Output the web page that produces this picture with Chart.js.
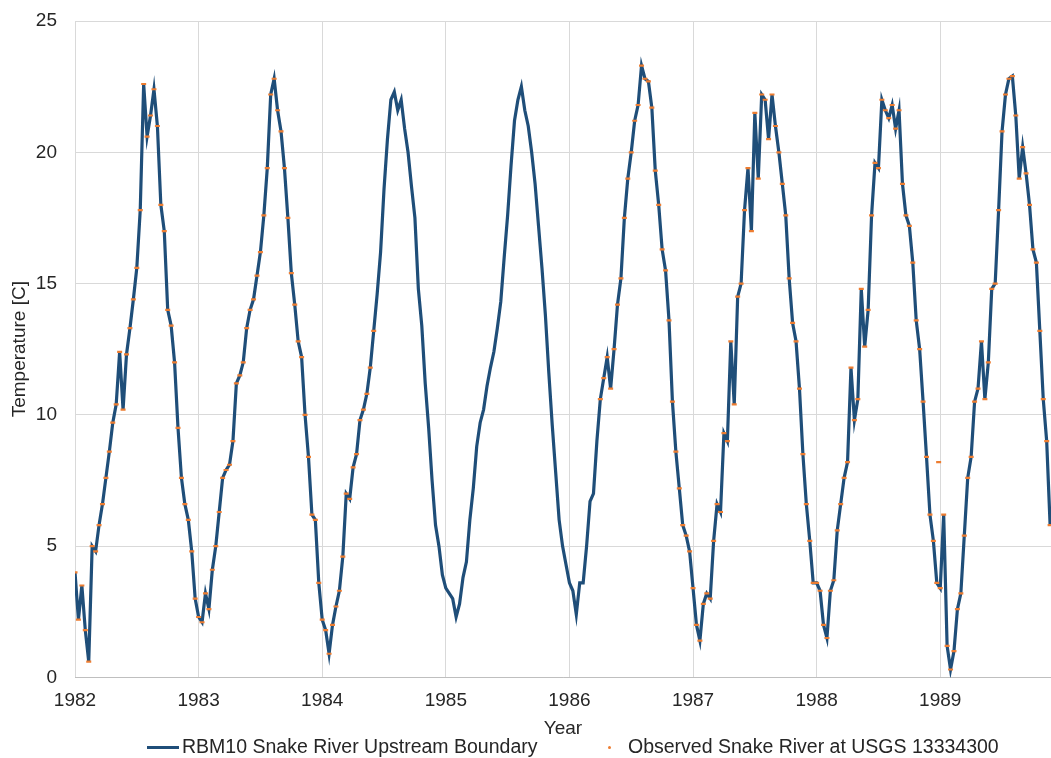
<!DOCTYPE html>
<html lang="en">
<head>
  <meta charset="UTF-8">
  <title>Snake River temperature</title>
  <style>
body {
  margin: 0;
  background: #fff;
  font-family: "Liberation Sans", Arial, sans-serif;
}

.wrap {
  position: relative;
  width: 1051px;
  height: 758px;
}

.legend {
  position: absolute;
  top: 735px;
  left: 0;
  width: 1051px;
  height: 22px;
  font-size: 19.5px;
  color: #262626;
  line-height: 22px;
}

.legend .item {
  position: absolute;
  top: 0;
  white-space: nowrap;
}

.legend .swatch-line {
  display: inline-block;
  width: 32px;
  height: 3px;
  background: #1f4e79;
  vertical-align: middle;
  margin-right: 3px;
}

.legend .swatch-dot {
  display: inline-block;
  width: 3px;
  height: 3px;
  border-radius: 50%;
  background: #ed7d31;
  vertical-align: middle;
  margin: 0 17px 0 3px;
}
  </style>
  <script src="https://cdn.jsdelivr.net/npm/chart.js"></script>
</head>
<body>

  <div class="wrap">
    <canvas id="tempChart" width="1051" height="758"></canvas>
    <div class="legend">
      <span class="item" style="left:147px"><span class="swatch-line"></span>RBM10 Snake River Upstream Boundary</span>
      <span class="item" style="left:605px"><span class="swatch-dot"></span>Observed Snake River at USGS 13334300</span>
    </div>
  </div>

  <script>
    // water temperature [C], every 10 days
    const years = [1982, 1983, 1984, 1985, 1986, 1987, 1988, 1989];
    const samplesPerYear = 36;

    const temp1982 = [4.0, 2.2, 3.5, 1.8, 0.6, 5.0, 4.8, 5.8, 6.6, 7.6, 8.6, 9.7,
      10.4, 12.4, 10.2, 12.3, 13.3, 14.4, 15.6, 17.8, 22.6, 20.6, 21.4, 22.4,
      21.0, 18.0, 17.0, 14.0, 13.4, 12.0, 9.5, 7.6, 6.6, 6.0, 4.8, 3.0];
    const temp1983 = [2.3, 2.1, 3.2, 2.6, 4.1, 5.0, 6.3, 7.6, 7.9, 8.1, 9.0, 11.2,
      11.5, 12.0, 13.3, 14.0, 14.4, 15.3, 16.2, 17.6, 19.4, 22.2, 22.8, 21.6,
      20.8, 19.4, 17.5, 15.4, 14.2, 12.8, 12.2, 10.0, 8.4, 6.2, 6.0, 3.6];
    const temp1984 = [2.2, 1.8, 0.9, 2.0, 2.7, 3.3, 4.6, 7.0, 6.8, 8.0, 8.5, 9.8,
      10.2, 10.8, 11.8, 13.2, 14.6, 16.2, 18.6, 20.5, 22.0, 22.3, 21.6, 22.0,
      20.9, 20.0, 18.7, 17.5, 14.8, 13.4, 11.2, 9.5, 7.5, 5.8, 5.0, 3.9];
    const temp1985 = [3.4, 3.2, 3.0, 2.3, 2.8, 3.8, 4.4, 6.0, 7.2, 8.8, 9.7, 10.2,
      11.1, 11.8, 12.4, 13.3, 14.3, 16.0, 17.6, 19.5, 21.2, 22.0, 22.5, 21.6,
      21.0, 20.0, 18.8, 17.2, 15.6, 13.8, 11.6, 9.6, 7.8, 6.0, 5.0, 4.3];
    const temp1986 = [3.6, 3.3, 2.4, 3.6, 3.6, 5.0, 6.7, 7.0, 9.0, 10.6, 11.4, 12.2,
      11.0, 12.5, 14.2, 15.2, 17.5, 19.0, 20.0, 21.2, 21.8, 23.3, 22.8, 22.7,
      21.7, 19.3, 18.0, 16.3, 15.5, 13.6, 10.5, 8.6, 7.2, 5.8, 5.4, 4.8];
    const temp1987 = [3.4, 2.0, 1.4, 2.8, 3.2, 3.0, 5.2, 6.6, 6.3, 9.3, 9.0, 12.8,
      10.4, 14.5, 15.0, 17.8, 19.4, 17.0, 21.5, 19.0, 22.2, 22.0, 20.5, 22.2,
      21.0, 20.0, 18.8, 17.6, 15.2, 13.5, 12.8, 11.0, 8.5, 6.6, 5.2, 3.6];
    const temp1988 = [3.6, 3.3, 2.0, 1.5, 3.3, 3.7, 5.6, 6.6, 7.6, 8.2, 11.8, 9.8,
      10.6, 14.8, 12.6, 14.0, 17.6, 19.6, 19.4, 22.0, 21.6, 21.3, 21.8, 20.9,
      21.6, 18.8, 17.6, 17.2, 15.8, 13.6, 12.5, 10.5, 8.4, 6.2, 5.2, 3.6];
    const temp1989 = [3.4, 6.2, 1.2, 0.3, 1.0, 2.6, 3.2, 5.4, 7.6, 8.4, 10.5, 11.0,
      12.8, 10.6, 12.0, 14.8, 15.0, 17.8, 20.8, 22.2, 22.8, 22.9, 21.4, 19.0,
      20.2, 19.2, 18.0, 16.3, 15.8, 13.2, 10.6, 9.0, 5.8];

    const tempByYear = [temp1982, temp1983, temp1984, temp1985, temp1986, temp1987, temp1988, temp1989];

    // periods (decimal year) where the USGS gauge has observations
    const obsPeriods = [[1982.0, 1984.42], [1986.23, 1990.0]];
    const obsExtraDates = [1988.987];
    const obsExtraTemps = [8.2];

    const yTicks = [0, 5, 10, 15, 20, 25];

    const modelPoints = [];
    years.forEach(function(yr, k) {
      tempByYear[k].forEach(function(v, i) {
        modelPoints.push({ x: yr + i / samplesPerYear, y: v });
      });
    });

    let obsPoints = modelPoints.filter(function(p) {
      return obsPeriods.some(function(r) { return p.x >= r[0] && p.x <= r[1]; });
    });
    obsExtraDates.forEach(function(d, i) {
      obsPoints.push({ x: d, y: obsExtraTemps[i] });
    });
    obsPoints.sort(function(a, b) { return a.x - b.x; });

    const ctx = document.getElementById('tempChart').getContext('2d');
    const font = { family: '"Liberation Sans", Arial, sans-serif', size: 19 };

    const tempChart = new Chart(ctx, {
      type: 'line',
      data: {
        datasets: [{
          label: 'RBM10 Snake River Upstream Boundary',
          data: modelPoints,
          borderColor: '#1f4e79',
          borderWidth: 3.2,
          pointRadius: 0,
          tension: 0,
          order: 2
        }, {
          label: 'Observed Snake River at USGS 13334300',
          data: obsPoints,
          showLine: false,
          pointStyle: 'line',
          pointRadius: 2.5,
          pointBorderWidth: 2.2,
          pointBorderColor: '#ed7d31',
          pointBackgroundColor: '#ed7d31',
          order: 1
        }]
      },
      options: {
        responsive: false,
        animation: false,
        layout: { autoPadding: false, padding: { top: 0, left: 0, right: 0, bottom: 14 } },
        plugins: {
          legend: { display: false },
          tooltip: { enabled: false }
        },
        scales: {
          x: {
            type: 'linear',
            min: years[0],
            max: 1989.896,
            grid: { color: '#d9d9d9', drawTicks: false },
            border: { color: '#bfbfbf' },
            ticks: {
              stepSize: 1,
              includeBounds: false,
              padding: 12,
              color: '#262626',
              font: font,
              maxRotation: 0,
              callback: function(v) { return String(v); }
            },
            title: { display: true, text: 'Year', color: '#262626', font: font, padding: { top: -7, bottom: 4 } },
            afterFit: function(scale) {
              scale.paddingRight = 0;
            }
          },
          y: {
            min: yTicks[0],
            max: yTicks[yTicks.length - 1],
            grid: { color: '#d9d9d9', drawTicks: false },
            border: { display: false },
            ticks: { stepSize: 5, padding: 18, color: '#262626', font: font },
            title: { display: true, text: 'Temperature [C]', color: '#262626', font: font, padding: { top: 8, bottom: 4 } },
            afterFit: function(scale) {
              scale.width = 75;
              scale.paddingTop = 21;
            }
          }
        }
      }
    });
  </script>

</body>
</html>
